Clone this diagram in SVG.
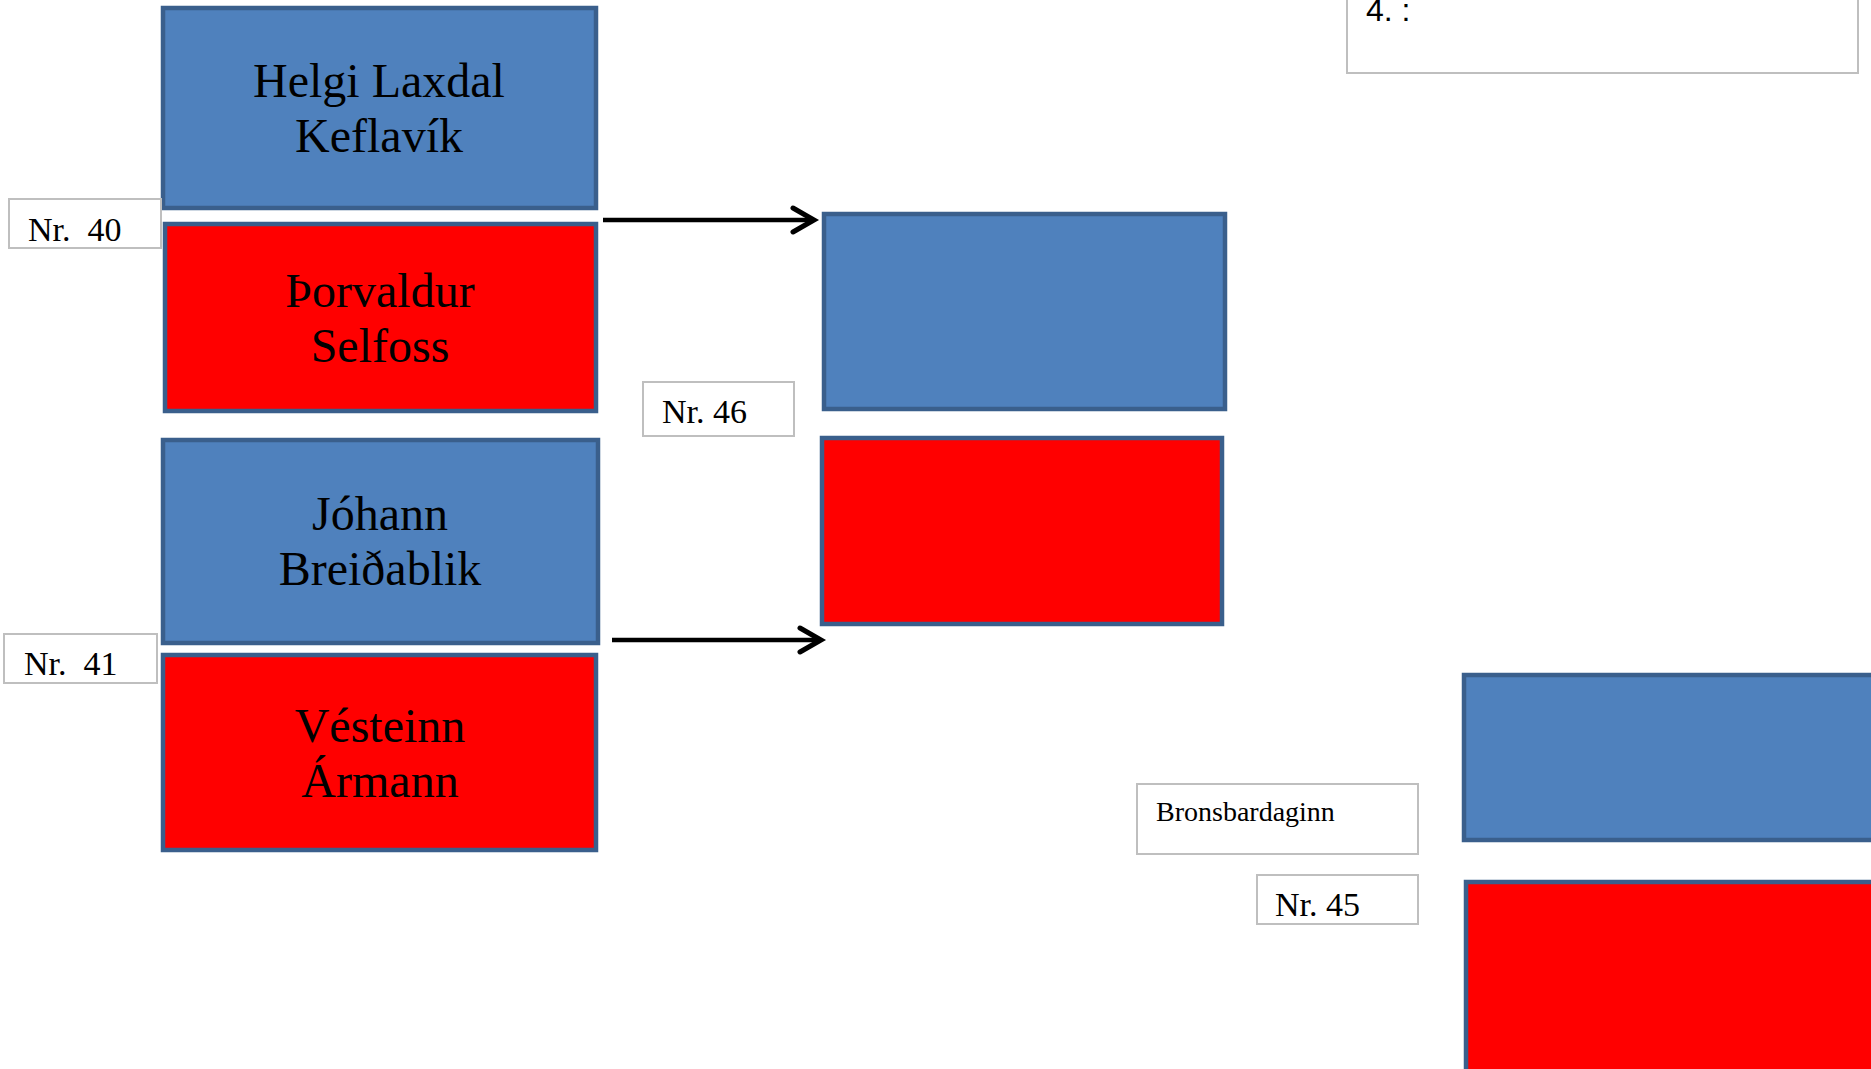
<svg xmlns="http://www.w3.org/2000/svg" width="1871" height="1069" viewBox="0 0 1871 1069">
<style>
.blue{fill:#4F81BD;stroke:#3A5F8C;stroke-width:4.5}
.red{fill:#FF0000;stroke:#3A5F8C;stroke-width:4.5}
.lbl{fill:#FFFFFF;stroke:#BFBFBF;stroke-width:2}
.name{font-family:"Liberation Serif","Times New Roman",serif;font-size:48px;fill:#000;text-anchor:middle}
.nr{font-family:"Liberation Serif","Times New Roman",serif;font-size:34px;fill:#000}
.sm{font-family:"Liberation Serif","Times New Roman",serif;font-size:28px;fill:#000}
.sans{font-family:"Liberation Sans",Arial,sans-serif;font-size:32px;fill:#000}
.conn{stroke:#000;stroke-width:4.5;fill:none}
</style>
<defs>
<marker id="arr" markerUnits="userSpaceOnUse" markerWidth="30" markerHeight="34" viewBox="-24 -17 30 34" refX="0" refY="0" orient="auto">
<polyline points="-21,-12 0,0 -21,12" fill="none" stroke="#000" stroke-width="5" stroke-linecap="round" stroke-linejoin="miter"/>
</marker>
</defs>
<rect width="1871" height="1069" fill="#FFFFFF"/>

<g id="match40-top">
<rect class="blue" x="163" y="8" width="433" height="200"/>
<text class="name" x="379" y="97">Helgi Laxdal</text>
<text class="name" x="379" y="152">Keflavík</text>
</g>
<g id="match40-label">
<rect class="lbl" x="9" y="199" width="152" height="49"/>
<text class="nr" x="28" y="241" xml:space="preserve">Nr.  40</text>
</g>
<g id="match40-bottom">
<rect class="red" x="165" y="224" width="431" height="187"/>
<text class="name" x="380" y="307">Þorvaldur</text>
<text class="name" x="380" y="362">Selfoss</text>
</g>

<g id="match41-top">
<rect class="blue" x="163" y="440" width="435" height="203"/>
<text class="name" x="380" y="530">Jóhann</text>
<text class="name" x="380" y="585">Breiðablik</text>
</g>
<g id="match41-label">
<rect class="lbl" x="4" y="634" width="153" height="49"/>
<text class="nr" x="24" y="675" xml:space="preserve">Nr.  41</text>
</g>
<g id="match41-bottom">
<rect class="red" x="163" y="655" width="433" height="195"/>
<text class="name" x="380" y="742">Vésteinn</text>
<text class="name" x="380" y="797">Ármann</text>
</g>

<g id="match46-top">
<rect class="blue" x="824" y="214" width="401" height="195"/>
</g>
<g id="match46-label">
<rect class="lbl" x="643" y="382" width="151" height="54"/>
<text class="nr" x="662" y="423">Nr. 46</text>
</g>
<g id="match46-bottom">
<rect class="red" x="822" y="438" width="400" height="186"/>
</g>

<g id="final-label">
<rect class="lbl" x="1347" y="-10" width="511" height="83"/>
<text class="sans" x="1366" y="21">4. :</text>
</g>

<g id="bronze-label">
<rect class="lbl" x="1137" y="784" width="281" height="70"/>
<text class="sm" x="1156" y="821">Bronsbardaginn</text>
</g>
<g id="match45-label">
<rect class="lbl" x="1257" y="875" width="161" height="49"/>
<text class="nr" x="1275" y="916">Nr. 45</text>
</g>
<g id="match45-top">
<rect class="blue" x="1464" y="675" width="420" height="165"/>
</g>
<g id="match45-bottom">
<rect class="red" x="1466" y="882" width="420" height="200"/>
</g>

<g id="connectors">
<line class="conn" x1="603" y1="220" x2="814" y2="220" marker-end="url(#arr)"/>
<line class="conn" x1="612" y1="640" x2="821" y2="640" marker-end="url(#arr)"/>
</g>
</svg>
